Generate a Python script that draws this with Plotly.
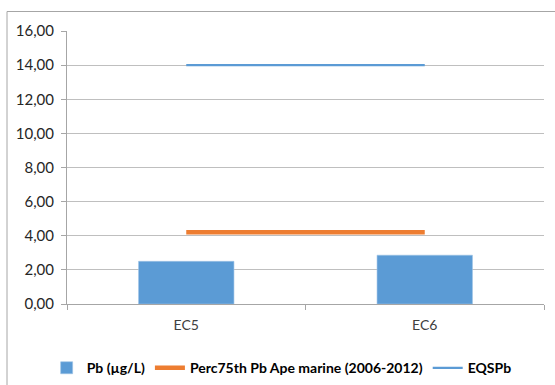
import plotly.graph_objects as go

categories = ["EC5", "EC6"]
pb_values = [2.50, 2.86]
perc75_values = [4.2, 4.2]
eqs_values = [14.0, 14.0]
y_ticks = [0, 2, 4, 6, 8, 10, 12, 14, 16]

W, H = 555, 385
L, R, T, B = 67, 11, 31, 81

fig = go.Figure()
fig.add_trace(go.Bar(
    x=categories, y=pb_values, name="Pb (µg/L)",
    marker=dict(color="#5B9BD5", line=dict(color="#9DC3E6", width=0.6)),
    width=0.4,
))
fig.add_trace(go.Scatter(
    x=categories, y=perc75_values, name="Perc75th Pb Ape marine (2006-2012)",
    mode="lines", line=dict(color="#ED7D31", width=4.5),
))
fig.add_trace(go.Scatter(
    x=categories, y=eqs_values, name="EQSPb",
    mode="lines", line=dict(color="#5B9BD5", width=2.25),
))

pw = W - L - R
ph = H - T - B
fig.add_shape(type="rect", xref="paper", yref="paper",
              x0=(7 - L) / pw, x1=(W + 5 - L) / pw,
              y0=-(H + 5 - T - ph) / ph, y1=(ph + T - 11.5) / ph,
              line=dict(color="#A6A6A6", width=1), layer="below")

fig.update_layout(
    width=W, height=H,
    margin=dict(l=L, r=R, t=T, b=B, pad=0, autoexpand=False),
    paper_bgcolor="white", plot_bgcolor="white",
    separators=",.",
    font=dict(family="Lato, Carlito, Calibri, sans-serif", size=14, color="#404040"),
    showlegend=True,
    legend=dict(orientation="h", x=0.45, xanchor="center", y=-0.235, yanchor="middle",
                font=dict(size=14, color="#000000", weight="bold"),
                itemwidth=30, tracegroupgap=0, traceorder="normal"),
    bargap=0.6,
)
fig.update_xaxes(
    type="category", showgrid=False, showline=True, linecolor="#A6A6A6", linewidth=1,
    ticks="outside", tickson="boundaries", ticklen=5, tickcolor="#A6A6A6",
    ticklabelstandoff=8,
    tickfont=dict(color="#404040", size=14), fixedrange=True,
)
fig.update_yaxes(
    range=[0, 16], tickvals=y_ticks, tickformat=".2f",
    showgrid=True, gridcolor="#BFBFBF", gridwidth=1,
    showline=True, linecolor="#A6A6A6", linewidth=1,
    ticks="outside", ticklen=5, tickcolor="#A6A6A6",
    ticklabelstandoff=4,
    tickfont=dict(color="#262626", size=15), zeroline=False, fixedrange=True,
)

fig.write_html("out.html")
